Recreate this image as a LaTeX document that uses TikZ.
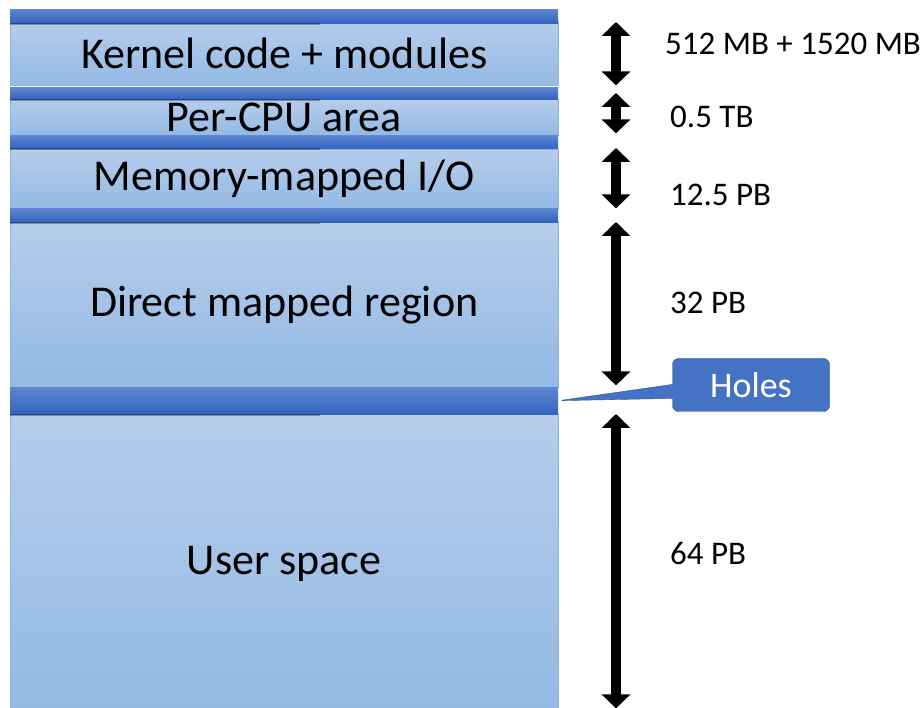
\documentclass[tikz,border=0pt]{standalone}
\usepackage{fontspec}
\setmainfont{Carlito}
\usetikzlibrary{arrows.meta,shapes.callouts}
\definecolor{regiontop}{RGB}{182,205,235}
\definecolor{regionbot}{RGB}{147,185,228}
\definecolor{regionline}{RGB}{141,180,226}
\definecolor{bartop}{RGB}{93,135,210}
\definecolor{barbot}{RGB}{52,99,190}
\definecolor{calloutfill}{RGB}{68,114,196}
\definecolor{calloutline}{RGB}{47,82,143}

\begin{document}
\begin{tikzpicture}[x=1pt, y=-1pt]
    \useasboundingbox (0,0) rectangle (924,708);

    % region style
    \tikzstyle{region}=[
      draw=regionline,
      top color=regiontop,
      bottom color=regionbot,
      anchor=north west,
      minimum width=548pt,
      inner sep=0pt,
      font=\fontsize{44}{52}\selectfont
    ]
    % separator bar style
    \tikzstyle{bar}=[
      top color=bartop,
      bottom color=barbot,
      anchor=north west,
      minimum width=548pt,
      inner sep=0pt
    ]
    \tikzstyle{span}=[line width=10pt, {Triangle[width=28pt,length=14pt]}-{Triangle[width=28pt,length=14pt]}]
    \tikzstyle{sizelabel}=[anchor=west, inner sep=0pt, font=\fontsize{33}{40}\selectfont]

    % Address space regions
    \node[region, minimum height=64pt] (kernel) at (10,21) {Kernel code + modules};
    \node[region, minimum height=36pt] (percpu) at (10,99) {Per-CPU area};
    \node[region, minimum height=60pt] (mmio) at (10,149) {Memory-mapped I/O};
    \node[region, minimum height=165pt] (direct) at (10,222) {Direct mapped region};
    \node[region, minimum height=300pt] (user) at (10,414) {User space};

    % Separator bars
    \node[bar, minimum height=14pt] (bar0) at (10,9) {};
    \node[bar, minimum height=12pt] (bar1) at (10,87) {};
    \node[bar, minimum height=13pt] (bar2) at (10,135) {};
    \node[bar, minimum height=14pt] (bar3) at (10,208) {};
    \node[bar, minimum height=27pt] (holebar) at (10,387) {};
    \foreach \b in {bar0,bar1,bar2,bar3,holebar}
      \fill[black, opacity=.3] (\b.south west) rectangle ++(310,2);

    % Size arrows
    \coordinate (ax) at (616,0);
    \draw[span] ([yshift=-1pt]kernel.north -| ax) -- (kernel.south -| ax);
    \draw[span] ([yshift=6pt]percpu.north -| ax) -- ([yshift=2pt]percpu.south -| ax);
    \draw[span] ([yshift=1pt]mmio.north -| ax) -- ([yshift=1pt]mmio.south -| ax);
    \draw[span] (direct.north -| ax) -- ([yshift=2pt]direct.south -| ax);
    \draw[span] (user.north -| ax) -- ([yshift=6pt]user.south -| ax);

    % Size labels
    \node[sizelabel] (kernelsize) at (665,44) {512 MB + 1520 MB};
    \node[sizelabel] (percpusize) at (670,117) {0.5 TB};
    \node[sizelabel] (mmiosize) at (670,195) {12.5 PB};
    \node[sizelabel] (directsize) at (670,303) {32 PB};
    \node[sizelabel] (usersize) at (670,553) {64 PB};

    % Callout
    \node[rectangle callout, fill=calloutfill, draw=calloutline, rounded corners=6pt,
      text=white, minimum width=157pt, minimum height=53pt, inner sep=0pt,
      font=\fontsize{36}{42}\selectfont,
      callout absolute pointer={(holebar.east)}, callout pointer width=14pt] (holes) at (751,385) {Holes};
  \end{tikzpicture}
\end{document}
